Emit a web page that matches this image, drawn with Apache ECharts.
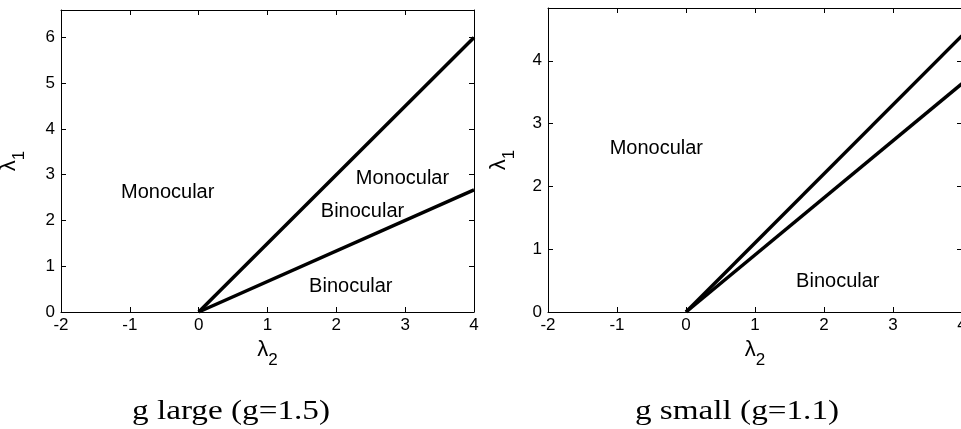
<!DOCTYPE html>
<html>
<head>
<meta charset="utf-8">
<script src="https://cdn.jsdelivr.net/npm/echarts@6/dist/echarts.min.js"></script>
<style>html,body{margin:0;padding:0;background:#fff}#c{width:961px;height:429px}</style>
</head>
<body>
<div id="c"></div>
<script>
// ---- data ----
const xTicks = [-2, -1, 0, 1, 2, 3, 4];
// g large (g = 1.5)
const largeUpper = [[0, 0], [4, 6]];
const largeLower = [[0, 0], [4, 2.667]];
const largeYMax = 6.6;
const largeLabels = [
  {value: [-0.45, 2.61], name: 'Monocular'},
  {value: [2.96, 2.92], name: 'Monocular'},
  {value: [2.38, 2.2], name: 'Binocular'},
  {value: [2.21, 0.55], name: 'Binocular'}
];
// g small (g = 1.1)
const smallUpper = [[0, 0], [4, 4.4]];
const smallLower = [[0, 0], [4, 3.636]];
const smallYMax = 4.84;
const smallLabels = [
  {value: [-0.43, 2.61], name: 'Monocular'},
  {value: [2.2, 0.49], name: 'Binocular'}
];
const captions = ['g large (g=1.5)', 'g small (g=1.1)'];

// ---- chart ----
const tickFont = "'Liberation Sans Narrow','Liberation Sans',Arial,sans-serif";
const labelFont = "'Liberation Sans',Arial,sans-serif";
const axisLine = {show: true, onZero: false, lineStyle: {color: '#000', width: 1}};
const axisTick = {show: true, inside: true, length: 5, lineStyle: {color: '#000'}};
const nameRich = {
  l: {fontSize: 22, fontFamily: labelFont, color: '#000', lineHeight: 30, verticalAlign: 'top'},
  s: {fontSize: 17, fontFamily: labelFont, color: '#000', lineHeight: 30, verticalAlign: 'bottom', padding: [12, 0, 0, 0]}
};
const grids = [
  {left: 61, right: 487, top: 10, bottom: 117, containLabel: false, outerBoundsMode: 'none'},
  {left: 548, right: -1, top: 8, bottom: 117, containLabel: false, outerBoundsMode: 'none'}
];
const yNameGaps = [33, 30];
const xAxes = [], yAxes = [], series = [];
const panels = [
  {upper: largeUpper, lower: largeLower, ymax: largeYMax, labels: largeLabels},
  {upper: smallUpper, lower: smallLower, ymax: smallYMax, labels: smallLabels}
];
panels.forEach((p, i) => {
  xAxes.push({
    gridIndex: i, type: 'value', min: xTicks[0], max: xTicks[xTicks.length - 1], interval: 1,
    position: 'bottom', axisLine, axisTick, splitLine: {show: false},
    axisLabel: {color: '#000', fontSize: 17, fontFamily: tickFont, margin: 5},
    name: '{l|λ}{s|2}', nameLocation: 'middle', nameGap: 26, nameTextStyle: {rich: nameRich}
  });
  xAxes.push({
    gridIndex: i, type: 'value', min: xTicks[0], max: xTicks[xTicks.length - 1], interval: 1,
    position: 'top', axisLine, axisTick, axisLabel: {show: false}, splitLine: {show: false}
  });
  yAxes.push({
    gridIndex: i, type: 'value', min: 0, max: p.ymax, interval: 1,
    position: 'left', axisLine, axisTick, splitLine: {show: false},
    axisLabel: {color: '#000', fontSize: 17, fontFamily: tickFont, margin: 6,
      showMaxLabel: false},
    name: '{l|λ}{s|1}', nameLocation: 'middle', nameGap: yNameGaps[i], nameRotate: 90,
    nameTextStyle: {rich: nameRich}
  });
  yAxes.push({
    gridIndex: i, type: 'value', min: 0, max: p.ymax, interval: 1,
    position: 'right', axisLine, axisTick, axisLabel: {show: false}, splitLine: {show: false}
  });
  const xi = i * 2, yi = i * 2;
  [p.upper, p.lower].forEach(d => series.push({
    type: 'line', xAxisIndex: xi, yAxisIndex: yi, data: d, showSymbol: false, symbol: 'none',
    lineStyle: {color: '#000', width: 3.5}, silent: true, animation: false
  }));
  series.push({
    type: 'scatter', xAxisIndex: xi, yAxisIndex: yi, data: p.labels, symbolSize: 0,
    itemStyle: {opacity: 1},
    label: {show: true, position: 'inside', formatter: '{b}', color: '#000', fontSize: 20, fontFamily: labelFont},
    silent: true, animation: false
  });
});

const chart = echarts.init(document.getElementById('c'), null, {renderer: 'canvas'});
chart.setOption({
  backgroundColor: '#fff',
  animation: false,
  grid: grids,
  xAxis: xAxes,
  yAxis: yAxes,
  series: series,
  graphic: [
    {type: 'text', x: 231, y: 412, scaleX: 1.23, style: {text: captions[0], font: "27px 'Liberation Serif','Times New Roman',serif", fill: '#000', textAlign: 'center', textVerticalAlign: 'middle'}},
    {type: 'text', x: 737, y: 412, scaleX: 1.23, style: {text: captions[1], font: "27px 'Liberation Serif','Times New Roman',serif", fill: '#000', textAlign: 'center', textVerticalAlign: 'middle'}}
  ]
});
</script>
</body>
</html>
